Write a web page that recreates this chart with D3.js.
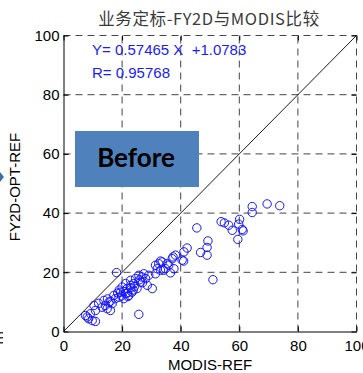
<!DOCTYPE html>
<html>
<head>
<meta charset="utf-8">
<script src="https://cdn.jsdelivr.net/npm/d3@7"></script>
<style>
  body { margin: 0; background: #fff; }
  svg { display: block; }
</style>
</head>
<body>
<div id="chart"></div>
<script>
// MODIS reference vs FY2D operational values
var modisRef = [8.1, 9.8, 9.2, 10.4, 10.9, 8.6, 10.9, 7.5,
  13.8, 14.3, 15.5, 14.9, 16.6, 16.0, 13.2, 17.7, 17.2,
  19.5, 18.9, 20.0, 20.6, 21.2, 21.7, 22.3, 21.2, 22.9, 23.4, 22.9, 24.0, 24.6, 25.1,
  25.7, 26.3, 26.8, 27.4, 28.0, 28.6, 30.3, 29.1, 31.4, 32.0, 32.5, 33.7, 33.1, 34.8,
  35.9, 37.1, 37.7, 38.2, 40.5, 41.1,
  19.0, 20.5, 21.8, 23.0, 24.2, 19.8, 22.0, 23.8, 26.0, 27.0, 18.5, 16.0, 15.0, 12.0,
  18.1, 25.7,
  31.4, 35.4, 36.5, 34.2, 37.4, 33.1, 41.0, 42.2, 45.5, 46.8, 49.3, 49.0, 49.0, 51.0,
  53.8, 54.9, 56.4, 57.6, 59.5, 60.1, 59.8, 61.0, 61.3, 64.4, 64.4, 69.5, 73.8];
var fy2dOpt = [4.9, 3.7, 6.0, 8.8, 7.1, 4.3, 3.4, 5.4,
  10.5, 8.8, 9.9, 7.7, 9.4, 7.1, 8.2, 11.1, 12.2,
  13.3, 11.6, 15.0, 11.1, 12.8, 14.5, 12.2, 16.2, 15.6, 13.3, 17.3, 16.2, 17.9, 14.5,
  19.0, 16.7, 18.4, 19.5, 17.9, 15.6, 14.5, 19.0, 19.5, 21.2, 22.9, 23.5, 20.7, 21.2,
  22.4, 24.6, 21.2, 25.8, 24.1, 26.9,
  14.0, 13.5, 13.0, 14.8, 15.2, 12.0, 11.8, 14.0, 17.5, 16.5, 13.0, 10.2, 11.0, 9.5,
  19.9, 5.8,
  22.4, 22.9, 19.8, 20.7, 25.2, 23.8, 23.8, 28.2, 35.0, 26.7, 30.6, 28.4, 25.8, 17.5,
  37.1, 36.7, 35.9, 34.2, 31.1, 37.9, 36.3, 34.5, 34.0, 42.2, 40.2, 43.1, 42.5];

var tickValues = [0, 20, 40, 60, 80, 100];
var fitText = ["Y= 0.57465 X  +1.0783", "R= 0.95768"];
var titleText = "业务定标-FY2D与MODIS比较";

var width = 363, height = 373;
var font = "'Liberation Sans', Arial, sans-serif";

var svg = d3.select("#chart").append("svg")
  .attr("width", width)
  .attr("height", height);

var x = d3.scaleLinear().domain([0, 100]).range([63.5, 356.5]);
var y = d3.scaleLinear().domain([0, 100]).range([331.5, 35.5]);

// dashed grid (also makes the top and right edges)
var grid = svg.append("g").attr("class", "grid");
grid.selectAll("line.v")
  .data(tickValues.slice(1))
  .enter().append("line")
  .attr("class", "v")
  .attr("x1", function (d) { return x(d); })
  .attr("x2", function (d) { return x(d); })
  .attr("y1", y(0)).attr("y2", y(100))
  .attr("stroke", "#444").attr("stroke-dasharray", "7,5");
grid.selectAll("line.h")
  .data(tickValues.slice(1))
  .enter().append("line")
  .attr("class", "h")
  .attr("y1", function (d) { return y(d); })
  .attr("y2", function (d) { return y(d); })
  .attr("x1", x(0)).attr("x2", x(100))
  .attr("stroke", "#444").attr("stroke-dasharray", "7,5");

// axes: ticks point inward
var xAxis = svg.append("g")
  .attr("transform", "translate(0," + y(0) + ")")
  .call(d3.axisBottom(x).tickValues(tickValues).tickSizeInner(-5).tickSizeOuter(0).tickPadding(9));
var yAxis = svg.append("g")
  .attr("transform", "translate(" + x(0) + ",0)")
  .call(d3.axisLeft(y).tickValues(tickValues).tickSizeInner(-5).tickSizeOuter(0).tickPadding(4));
// ticks on top / right without lines
svg.append("g")
  .attr("transform", "translate(0," + y(100) + ")")
  .call(d3.axisTop(x).tickValues(tickValues).tickSizeInner(-5).tickSizeOuter(0).tickFormat(""))
  .select(".domain").remove();
svg.append("g")
  .attr("transform", "translate(" + x(100) + ",0)")
  .call(d3.axisRight(y).tickValues(tickValues).tickSizeInner(-5).tickSizeOuter(0).tickFormat(""))
  .select(".domain").remove();

[xAxis, yAxis].forEach(function (a) {
  a.select(".domain").attr("stroke", "#000");
  a.selectAll("text").style("font-family", font).style("font-size", "15px").attr("fill", "#000");
});
xAxis.selectAll("text").attr("dy", "0.71em");

// 1:1 line
svg.append("line")
  .attr("x1", x(0)).attr("y1", y(0))
  .attr("x2", x(100)).attr("y2", y(100))
  .attr("stroke", "#000").attr("stroke-width", 0.9);

// points
svg.append("g").selectAll("circle")
  .data(d3.range(modisRef.length))
  .enter().append("circle")
  .attr("cx", function (i) { return x(modisRef[i]); })
  .attr("cy", function (i) { return y(fy2dOpt[i]); })
  .attr("r", 4.2)
  .attr("fill", "none")
  .attr("stroke", "#1414ff")
  .attr("stroke-width", 1);

// regression text
svg.selectAll("text.fit")
  .data(fitText)
  .enter().append("text")
  .attr("class", "fit")
  .attr("x", 92)
  .attr("y", function (d, i) { return 55 + i * 23; })
  .attr("xml:space", "preserve")
  .style("font-family", font).style("font-size", "15px")
  .attr("fill", "#1a1aff")
  .text(function (d) { return d; });

// title
svg.append("text")
  .attr("x", (x(0) + x(100)) / 2 - 1)
  .attr("y", 25)
  .attr("text-anchor", "middle")
  .style("font-family", "'Noto Sans CJK SC', sans-serif")
  .style("font-size", "16.5px")
  .style("letter-spacing", "0.6px")
  .attr("fill", "#3a3a3a")
  .text(titleText);

// axis labels
svg.append("text")
  .attr("x", (x(0) + x(100)) / 2)
  .attr("y", 370)
  .attr("text-anchor", "middle")
  .style("font-family", font).style("font-size", "15px")
  .text("MODIS-REF");
svg.append("text")
  .attr("transform", "translate(20,187) rotate(-90)")
  .attr("text-anchor", "middle")
  .style("font-family", font).style("font-size", "15px")
  .text("FY2D-OPT-REF");

// "Before" box pasted on the slide
var box = svg.append("g");
box.append("rect")
  .attr("x", 75).attr("y", 131)
  .attr("width", 124).attr("height", 56)
  .attr("fill", "#4f81bd");
box.append("text")
  .attr("x", 136).attr("y", 167)
  .attr("text-anchor", "middle")
  .style("font-family", "Lato, 'Open Sans', sans-serif")
  .style("font-weight", "bold")
  .style("font-size", "26px")
  .attr("fill", "#000")
  .text("Before");

// bits of the slide cut off at the left edge
svg.append("path")
  .attr("d", "M0,172 L4,177 L0,182 Z")
  .attr("fill", "#3e6ea8");
svg.selectAll("rect.cut")
  .data([0, 1, 2])
  .enter().append("rect")
  .attr("class", "cut")
  .attr("x", 0).attr("y", function (d) { return 332 + d * 5; })
  .attr("width", 3).attr("height", 1.5)
  .attr("fill", "#333");
</script>
</body>
</html>
